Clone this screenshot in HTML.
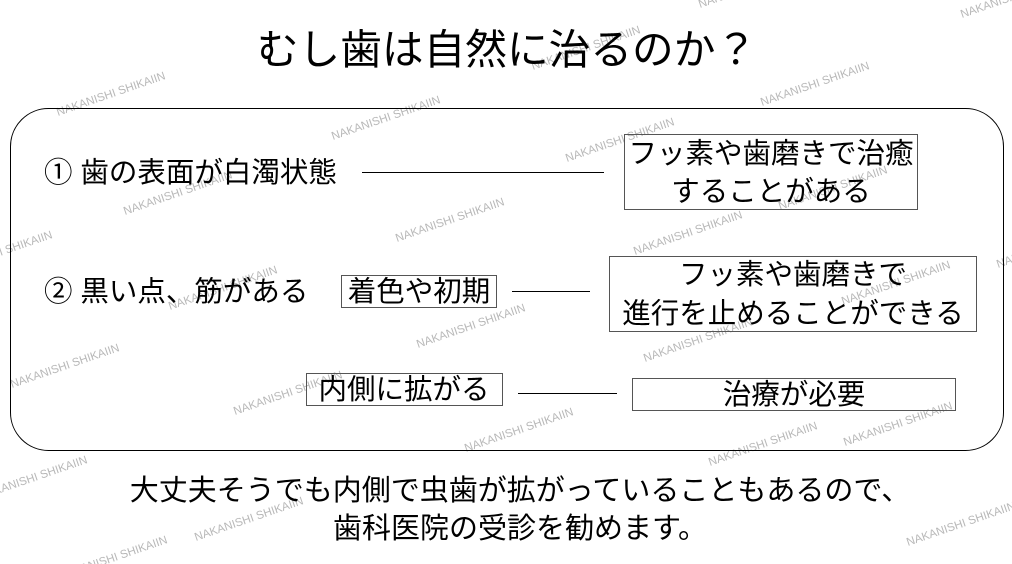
<!DOCTYPE html>
<html><head><meta charset="utf-8"><style>
html,body{margin:0;padding:0;background:#fff;}
svg{display:block;}
.t{font-family:"Liberation Sans","Noto Sans CJK JP",sans-serif;fill:#000;}
.w{font-family:"Liberation Sans",sans-serif;font-size:11.5px;fill:#b8b8b8;}
</style></head><body>
<svg width="1012" height="564" viewBox="0 0 1012 564" xmlns="http://www.w3.org/2000/svg">
<g class="w">
<text transform="translate(58,116) rotate(-19)">NAKANISHI SHIKAIIN</text>
<text transform="translate(333,140) rotate(-19)">NAKANISHI SHIKAIIN</text>
<text transform="translate(125,215) rotate(-19)">NAKANISHI SHIKAIIN</text>
<text transform="translate(-55,275) rotate(-19)">NAKANISHI SHIKAIIN</text>
<text transform="translate(170,310) rotate(-19)">NAKANISHI SHIKAIIN</text>
<text transform="translate(397,242) rotate(-19)">NAKANISHI SHIKAIIN</text>
<text transform="translate(567,162) rotate(-19)">NAKANISHI SHIKAIIN</text>
<text transform="translate(533,70) rotate(-19)">NAKANISHI SHIKAIIN</text>
<text transform="translate(700,8) rotate(-19)">NAKANISHI SHIKAIIN</text>
<text transform="translate(962,18) rotate(-19)">NAKANISHI SHIKAIIN</text>
<text transform="translate(762,106) rotate(-19)">NAKANISHI SHIKAIIN</text>
<text transform="translate(780,210) rotate(-19)">NAKANISHI SHIKAIIN</text>
<text transform="translate(635,255) rotate(-19)">NAKANISHI SHIKAIIN</text>
<text transform="translate(645,362) rotate(-19)">NAKANISHI SHIKAIIN</text>
<text transform="translate(843,305) rotate(-19)">NAKANISHI SHIKAIIN</text>
<text transform="translate(998,268) rotate(-19)">NAKANISHI SHIKAIIN</text>
<text transform="translate(12,388) rotate(-19)">NAKANISHI SHIKAIIN</text>
<text transform="translate(235,415) rotate(-19)">NAKANISHI SHIKAIIN</text>
<text transform="translate(418,348) rotate(-19)">NAKANISHI SHIKAIIN</text>
<text transform="translate(466,452) rotate(-19)">NAKANISHI SHIKAIIN</text>
<text transform="translate(710,466) rotate(-19)">NAKANISHI SHIKAIIN</text>
<text transform="translate(845,446) rotate(-19)">NAKANISHI SHIKAIIN</text>
<text transform="translate(-20,500) rotate(-19)">NAKANISHI SHIKAIIN</text>
<text transform="translate(196,541) rotate(-19)">NAKANISHI SHIKAIIN</text>
<text transform="translate(60,580) rotate(-19)">NAKANISHI SHIKAIIN</text>
<text transform="translate(908,546) rotate(-19)">NAKANISHI SHIKAIIN</text>
</g>
<text class="t" x="507" y="64" font-size="41.7" text-anchor="middle">むし歯は自然に治るのか？</text>
<rect x="10.5" y="108.5" width="993" height="342" rx="38" ry="38" fill="none" stroke="#000" stroke-width="1"/>
<text class="t" x="44" y="182" font-size="28.5">① 歯の表面が白濁状態</text>
<line x1="362" y1="172.5" x2="604" y2="172.5" stroke="#000"/>
<rect x="624.5" y="134.5" width="293" height="75" fill="none" stroke="#555"/>
<text class="t" x="771" y="163" font-size="28.5" text-anchor="middle">フッ素や歯磨きで治癒</text>
<text class="t" x="771" y="201" font-size="28.5" text-anchor="middle">することがある</text>
<text class="t" x="44" y="301" font-size="28.5">② 黒い点、筋がある</text>
<rect x="341.5" y="275.5" width="155" height="32" fill="none" stroke="#555"/>
<text class="t" x="419" y="301" font-size="28.5" text-anchor="middle">着色や初期</text>
<line x1="512" y1="291.5" x2="590" y2="291.5" stroke="#000"/>
<rect x="609.5" y="256.5" width="367" height="75" fill="none" stroke="#555"/>
<text class="t" x="793" y="284" font-size="28.5" text-anchor="middle">フッ素や歯磨きで</text>
<text class="t" x="793" y="323" font-size="28.5" text-anchor="middle">進行を止めることができる</text>
<rect x="306.5" y="373.5" width="196" height="32" fill="none" stroke="#555"/>
<text class="t" x="404" y="399" font-size="28.5" text-anchor="middle">内側に拡がる</text>
<line x1="518" y1="393.5" x2="617" y2="393.5" stroke="#000"/>
<rect x="632.5" y="378.5" width="323" height="32" fill="none" stroke="#555"/>
<text class="t" x="794" y="404" font-size="28.5" text-anchor="middle">治療が必要</text>
<text class="t" x="520" y="500" font-size="29" text-anchor="middle">大丈夫そうでも内側で虫歯が拡がっていることもあるので、</text>
<text class="t" x="520" y="538" font-size="29" text-anchor="middle">歯科医院の受診を勧めます。</text>
</svg>
</body></html>
